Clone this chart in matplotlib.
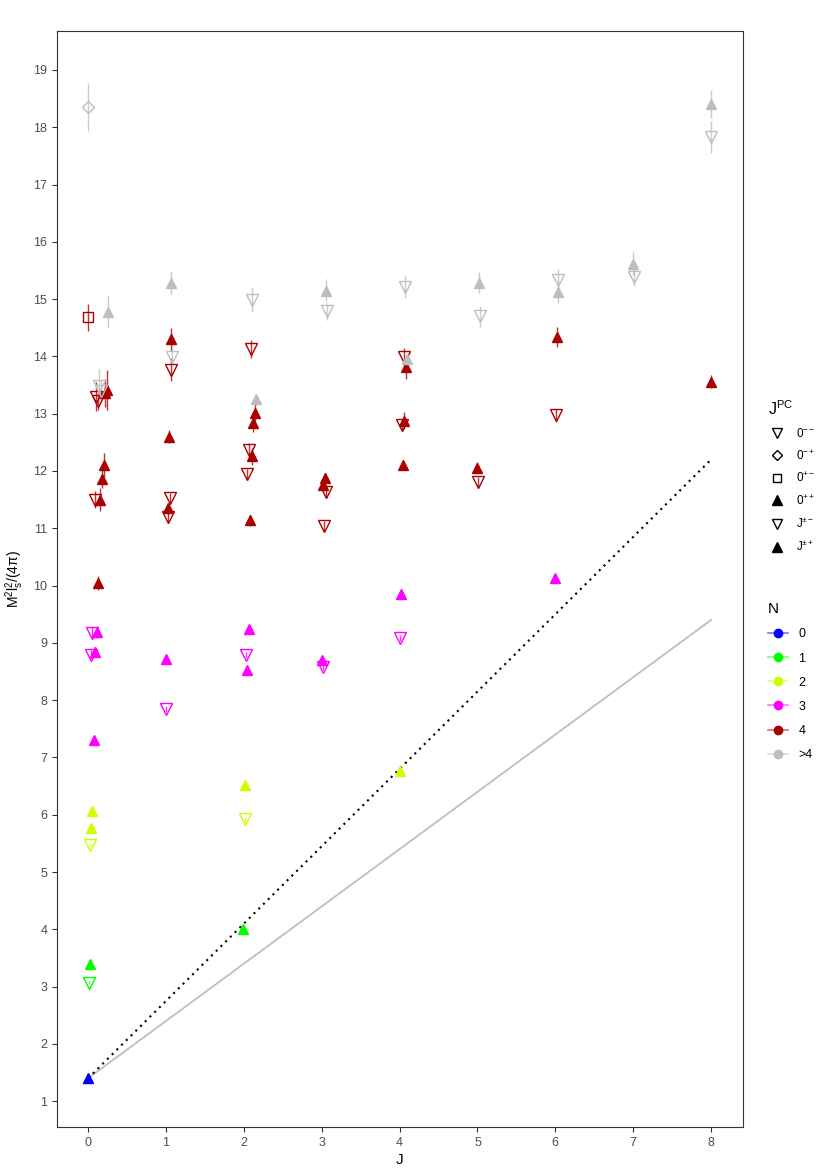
import matplotlib
matplotlib.use("Agg")
import matplotlib.pyplot as plt
from matplotlib.lines import Line2D
from matplotlib.legend_handler import HandlerTuple

plt.rcParams["font.family"] = ["Liberation Sans", "DejaVu Sans"]
plt.rcParams["mathtext.fontset"] = "custom"
plt.rcParams["mathtext.rm"] = "Liberation Sans"
plt.rcParams["mathtext.it"] = "Liberation Sans:italic"

# Reference lines (start / end points)
ref_j = [0, 8]
solid_m = [1.4, 9.4]
dotted_m = [1.4, 12.2]

# N = 0
j_n0 = [0.0]
m_n0 = [1.41]
err_n0 = [0.02]
pc_n0 = ["++"]

# N = 1
j_n1 = [0.02, 0.01, 1.99]
m_n1 = [3.40, 3.07, 4.01]
err_n1 = [0.03, 0.03, 0.03]
pc_n1 = ["++", "--", "+"]

# N = 2
j_n2 = [0.055, 0.035, 0.025, 2.02, 2.01, 4.0]
m_n2 = [6.06, 5.77, 5.47, 6.52, 5.92, 6.76]
err_n2 = [0.04, 0.04, 0.04, 0.04, 0.04, 0.04]
pc_n2 = ["++", "++", "--", "+", "-", "+"]

# N = 3
j_n3 = [0.055, 0.11, 0.035, 0.094, 0.077, 1.0, 1.0, 2.06, 2.03, 2.04, 3.0, 3.01, 4.02, 4.01, 6.0]
m_n3 = [9.17, 9.19, 8.79, 8.84, 7.30, 8.71, 7.84, 9.25, 8.79, 8.52, 8.70, 8.58, 9.86, 9.08, 10.13]
err_n3 = [0.1, 0.1, 0.08, 0.08, 0.06, 0.05, 0.05, 0.05, 0.05, 0.05, 0.05, 0.05, 0.05, 0.05, 0.05]
pc_n3 = ["--", "++", "--", "++", "++", "+", "-", "+", "-", "+", "+", "-", "+", "-", "+"]

# N = 4
j_n4 = [0.0, 0.10, 0.12, 0.22, 0.245, 0.2, 0.18, 0.09, 0.15, 0.13,
        1.06, 1.07, 1.04, 1.05, 1.02, 1.03,
        2.09, 2.14, 2.12, 2.07, 2.10, 2.04, 2.08,
        3.04, 3.02, 3.05, 3.03,
        4.05, 4.08, 4.06, 4.03, 4.04,
        5.0, 5.01, 6.02, 6.01, 8.0]
m_n4 = [14.68, 13.30, 13.22, 13.36, 13.42, 12.10, 11.86, 11.50, 11.50, 10.05,
        14.30, 13.77, 12.60, 11.52, 11.35, 11.20,
        14.13, 13.02, 12.83, 12.37, 12.26, 11.94, 11.14,
        11.87, 11.75, 11.63, 11.04,
        13.99, 13.81, 12.88, 12.80, 12.11,
        12.06, 11.80, 14.34, 12.97, 13.56]
err_n4 = [0.23, 0.25, 0.15, 0.25, 0.35, 0.21, 0.15, 0.15, 0.2, 0.12,
          0.2, 0.2, 0.12, 0.1, 0.1, 0.1,
          0.15, 0.15, 0.15, 0.12, 0.15, 0.1, 0.1,
          0.1, 0.1, 0.1, 0.08,
          0.15, 0.2, 0.15, 0.1, 0.08,
          0.1, 0.1, 0.17, 0.12, 0.12]
pc_n4 = ["+-", "--", "--", "++", "++", "++", "++", "--", "++", "++",
         "+", "-", "+", "-", "+", "-",
         "-", "+", "+", "-", "+", "-", "+",
         "+", "+", "-", "-",
         "-", "+", "+", "-", "+",
         "+", "-", "+", "-", "+"]

# N > 4
j_n5 = [0.0, 0.26, 0.14, 0.17, 1.07, 1.08, 2.11, 2.16, 3.06, 3.07,
        4.07, 4.1, 5.02, 5.03, 6.04, 6.04, 7.0, 7.01, 8.0, 8.0]
m_n5 = [18.35, 14.78, 13.48, 13.40, 15.29, 13.99, 14.99, 13.25, 15.15, 14.79,
        15.22, 13.95, 15.29, 14.70, 15.33, 15.13, 15.62, 15.38, 18.41, 17.83]
err_n5 = [0.42, 0.29, 0.3, 0.2, 0.2, 0.2, 0.22, 0.1, 0.2, 0.15,
          0.2, 0.1, 0.18, 0.18, 0.2, 0.2, 0.2, 0.15, 0.24, 0.28]
pc_n5 = ["-+", "++", "--", "--", "+", "-", "-", "+", "+", "-",
         "-", "+", "+", "-", "-", "+", "+", "-", "+", "-"]

n_labels = ["0", "1", "2", "3", "4", ">4"]
n_colors = ["#0000FF", "#00FF00", "#CCFF00", "#FF00FF", "#AA0000", "#BEBEBE"]

pc_labels = [r"$\mathregular{0^{--}}$", r"$\mathregular{0^{-+}}$",
             r"$\mathregular{0^{+-}}$", r"$\mathregular{0^{++}}$",
             r"$\mathregular{J^{\pm-}}$", r"$\mathregular{J^{\pm+}}$"]
pc_codes = ["--", "-+", "+-", "++", "-", "+"]

# marker, filled, size
MARKERS = {
    "--": ("v", False, 8),
    "-+": ("D", False, 6.5),
    "+-": ("s", False, 6.5),
    "++": ("^", True, 7.5),
    "-": ("v", False, 8),
    "+": ("^", True, 7.5),
}


def draw_group(ax, j, m, err, pc, color):
    """Error bars plus markers for one N group."""
    ax.errorbar(j, m, yerr=err, fmt="none", ecolor=color, elinewidth=1.0,
                alpha=0.8, zorder=2)
    for code, (marker, filled, ms) in MARKERS.items():
        idx = [i for i, p in enumerate(pc) if p == code]
        if not idx:
            continue
        xs = [j[i] for i in idx]
        ys = [m[i] for i in idx]
        ax.plot(xs, ys, ls="none", marker=marker, ms=ms, mec=color,
                mfc=color if filled else "none", mew=1.0, zorder=3)


fig = plt.figure(figsize=(8.3, 11.75), dpi=100)
ax = fig.add_axes([0.0687, 0.0409, 0.8265, 0.9327])

ax.plot(ref_j, solid_m, color="#BEBEBE", lw=1.3, zorder=1)
ax.plot(ref_j, dotted_m, color="black", lw=1.5, ls=(0, (1, 2.2)), zorder=1)

groups = [
    (j_n0, m_n0, err_n0, pc_n0),
    (j_n1, m_n1, err_n1, pc_n1),
    (j_n2, m_n2, err_n2, pc_n2),
    (j_n3, m_n3, err_n3, pc_n3),
    (j_n4, m_n4, err_n4, pc_n4),
    (j_n5, m_n5, err_n5, pc_n5),
]
for (j, m, err, pc), col in zip(groups, n_colors):
    draw_group(ax, j, m, err, pc, col)

ax.set_xlim(-0.4, 8.41)
ax.set_ylim(0.55, 19.68)
ax.set_xticks(range(0, 9))
ax.set_yticks(range(1, 20))
ax.tick_params(axis="both", colors="#333333", labelcolor="#4D4D4D",
               labelsize=9, length=3.5, width=0.8)
for s in ax.spines.values():
    s.set_color("#333333")
    s.set_linewidth(0.8)

ax.set_xlabel("J", fontsize=11, labelpad=3)
ax.set_ylabel(r"$\mathregular{M^2l_s^2/(4\pi)}$", fontsize=10, labelpad=5)

# Legend for J^PC shapes
pc_handles = []
for code in pc_codes:
    marker, filled, ms = MARKERS[code]
    pc_handles.append(Line2D([], [], ls="none", marker=marker, ms=ms - 1,
                             mec="black", mfc="black" if filled else "none", mew=1.0))
leg1 = fig.legend(pc_handles, pc_labels, title=r"$\mathregular{J^{PC}}$", loc="upper left",
                  bbox_to_anchor=(0.912, 0.669), frameon=False, fontsize=8.5,
                  title_fontsize=11.5, alignment="left", labelspacing=0.74,
                  handlelength=1.6, handletextpad=0.8)

# Legend for N colours: faint line with a solid dot on top
n_handles = []
for c in n_colors:
    seg = Line2D([], [], color=c, lw=1.2, alpha=0.55)
    dot = Line2D([], [], ls="none", marker="o", ms=6, mfc=c, mec=c)
    n_handles.append((seg, dot))
leg2 = fig.legend(n_handles, n_labels, title="N", loc="upper left",
                  bbox_to_anchor=(0.912, 0.497), frameon=False, fontsize=9,
                  title_fontsize=11, alignment="left", labelspacing=0.97,
                  handlelength=1.6, handletextpad=0.8,
                  handler_map={tuple: HandlerTuple(ndivide=1)})

fig.savefig("out.png", dpi=100)
